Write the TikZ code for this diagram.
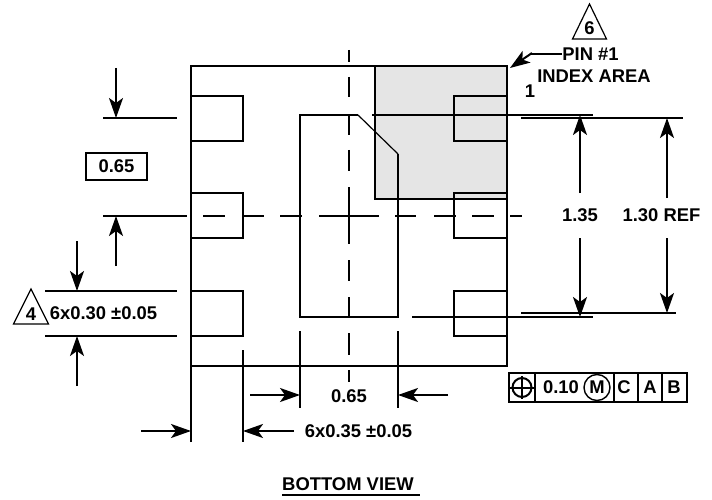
\documentclass[tikz,border=0pt]{standalone}
\usepackage{fontspec}
\setmainfont{Liberation Sans}
\usetikzlibrary{arrows.meta}
\tikzset{
  x=1pt,y=-1pt,
  part/.style={line width=2pt},
  thinpart/.style={line width=1.2pt},
  dim/.style={line width=2pt,-{Stealth[length=20pt,width=14pt,inset=5pt]}},
  lbl/.style={font=\bfseries\fontsize{18.4}{20}\selectfont,inner sep=0pt},
}
\begin{document}
\begin{tikzpicture}
\useasboundingbox (0,0) rectangle (712,500);
\fill[gray!20] (375,66) rectangle (507,199);
\draw[part] (191,442) -- (191,66) -- (507,66) -- (507,366) -- (191,366);
\foreach \ytop in {96,193,291}
{
  \draw[part] (191,\ytop) -- ++(52,0) -- ++(0,45) -- ++(-52,0);
  \draw[part] (507,\ytop) -- ++(-53,0) -- ++(0,45) -- ++(53,0);
}
\draw[part] (375,66) -- (375,199) -- (507,199);
\draw[part] (398,154) -- (398,317) -- (300,317) -- (300,115) -- (358,115);
\draw[thinpart] (358,115) -- (398,154);
\foreach \ya/\yb in {50/62,77/97,115/135,150/171,187/244,260/281,297/317,333/355,370/382}
  \draw[part] (349,\ya) -- (349,\yb);
\foreach \xa/\xb in {203/225,243/264,280/302,319/379,395/416,434/456,472/494,510/522}
  \draw[part] (\xa,216) -- (\xb,216);
\draw[part] (372,115) -- (593,115);
\draw[part] (521,118) -- (683,118);
\draw[part] (412,317) -- (593,317);
\draw[part] (521,313) -- (676,313);
\draw[part] (103,118) -- (177,118);
\draw[part] (103,216) -- (187,216);
\draw[part] (45,291) -- (177,291);
\draw[part] (45,336) -- (177,336);
\draw[part] (243,350) -- (243,442);
\draw[part] (300,331) -- (300,408);
\draw[part] (398,331) -- (398,408);
\draw[dim] (116,68) -- (116,118);
\draw[dim] (116,266) -- (116,216);
\draw[dim] (77,241) -- (77,291);
\draw[dim] (77,386) -- (77,336);
\draw[dim] (250,395) -- (300,395);
\draw[dim] (448,395) -- (398,395);
\draw[dim] (141,431) -- (191,431);
\draw[dim] (294,431) -- (243,431);
\draw[dim] (580,193) -- (580,115);
\draw[dim] (580,238) -- (580,317);
\draw[dim] (667,198) -- (667,118);
\draw[dim] (667,238) -- (667,313);
\node[lbl,draw,line width=2pt,minimum width=61pt,minimum height=27pt] (pitchbox) at (116.5,166.5) {0.65};
\node[lbl] (padwidth) at (103.5,313) {6x0.30 ±0.05};
\node[lbl] (padlength) at (358.5,431) {6x0.35 ±0.05};
\node[lbl] (pitchbottom) at (349,396) {0.65};
\node[lbl] (heightinner) at (580,215) {1.35};
\node[lbl] (heightouter) at (661.5,215) {1.30 REF};
\node[lbl] (pinlabel) at (590.5,54) {PIN \#1};
\node[lbl] (indexlabel) at (594,76) {INDEX AREA};
\node[lbl] (pinone) at (530,91) {1};
\node[lbl] (viewtitle) at (348,484) {BOTTOM VIEW};
\draw[line width=2.4pt] (282,495) -- (420,495);
\draw[thinpart] (31,289) -- (48.5,324) -- (13.5,324) -- cycle;
\node[lbl] (notefour) at (31,314) {4};
\draw[thinpart] (589.5,4) -- (606.5,39) -- (572.5,39) -- cycle;
\node[lbl] (notesix) at (589.5,28) {6};
\coordinate (pintip) at (510,68);
\draw[part] (pinlabel.west) -- (530,54);
\draw[dim] (532,53) -- (pintip);
\draw[part] (509,373) rectangle (687,402);
\draw[part] (535,373) -- (535,402);
\draw[part] (614,373) -- (614,402);
\draw[part] (638,373) -- (638,402);
\draw[part] (662,373) -- (662,402);
\draw[part] (522,387.5) circle (9.5);
\draw[part] (509,387.5) -- (535,387.5);
\draw[part] (522,376) -- (522,399);
\node[lbl] (tolvalue) at (561,387) {0.10};
\node[lbl,draw,circle,line width=1.4pt,minimum size=26pt] (tolm) at (597,387.5) {M};
\node[lbl] (datumc) at (624,387) {C};
\node[lbl] (datuma) at (650,387) {A};
\node[lbl] (datumb) at (674,387) {B};
\end{tikzpicture}
\end{document}
